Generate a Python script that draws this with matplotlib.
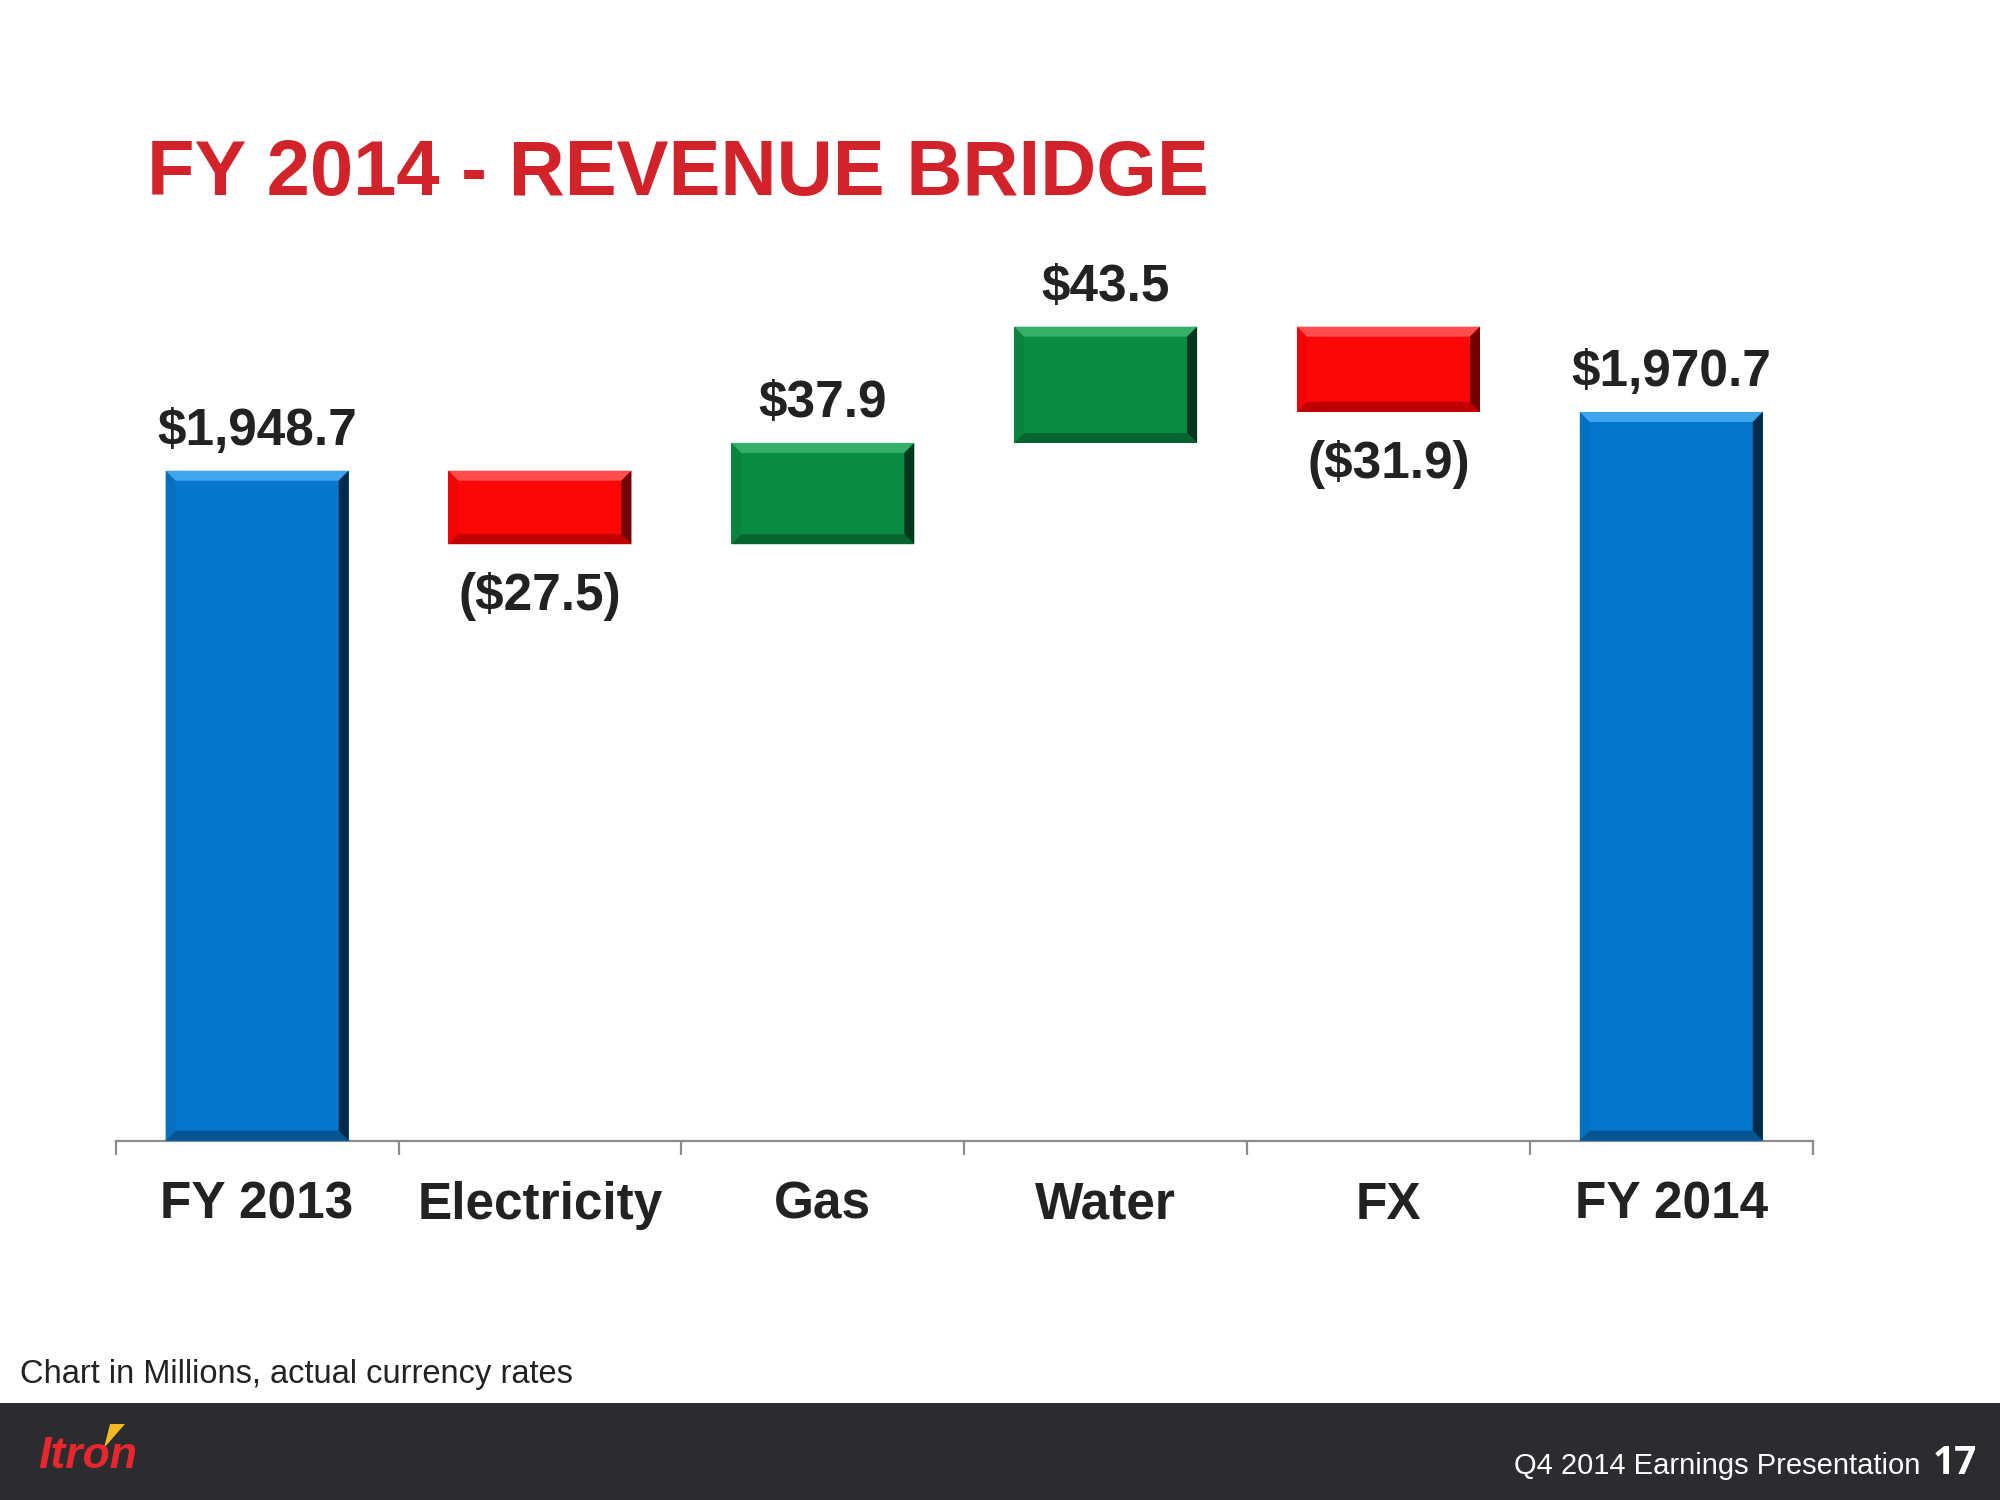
import numpy as np
import matplotlib
matplotlib.use('Agg')
import matplotlib.pyplot as plt
from matplotlib import font_manager
from matplotlib.patches import Polygon, Rectangle

categories = ['FY 2013', 'Electricity', 'Gas', 'Water', 'FX', 'FY 2014']
changes = [1948.7, -27.5, 37.9, 43.5, -31.9, 1970.7]
value_labels = ['$1,948.7', '($27.5)', '$37.9', '$43.5', '($31.9)', '$1,970.7']
is_total = [True, False, False, False, False, True]

# the slide cuts the value axis, the bars do not start at zero
y_floor = 1698
y_top = 2050

installed = {f.name for f in font_manager.fontManager.ttflist}
narrow = 'Liberation Sans Narrow' if 'Liberation Sans Narrow' in installed else 'Liberation Sans'

W, H = 2000, 1500
fig = plt.figure(figsize=(20, 15), dpi=100)
fig.patch.set_facecolor('white')

def px(x, y):
    return x / W, 1 - y / H

# axes placed on the slide in pixels
ax_l, ax_r, ax_b, ax_t = 115.7, 1812.7, 1140.7, 200
ax = fig.add_axes([ax_l / W, 1 - ax_b / H, (ax_r - ax_l) / W, (ax_b - ax_t) / H])
ax.set_xlim(-0.5, len(categories) - 0.5)
ax.set_ylim(y_floor, y_top)
ax.patch.set_alpha(0)

# waterfall geometry
bottoms, heights, kinds = [], [], []
running = 0
for v, tot in zip(changes, is_total):
    if tot:
        bottoms.append(y_floor)
        heights.append(v - y_floor)
        running = v
        kinds.append('total')
    else:
        bottoms.append(min(running, running + v))
        heights.append(abs(v))
        running += v
        kinds.append('up' if v > 0 else 'down')

# main, top bevel, bottom bevel, right bevel, left bevel
palette = {
    'total': ('#0677CC', '#3FA5EE', '#045592', '#022A4A', '#0670C0'),
    'up': ('#0A8C44', '#35B068', '#07642F', '#03381C', '#09843F'),
    'down': ('#FF0606', '#FF4C4C', '#BE0000', '#720000', '#F00404'),
}
x = np.arange(len(categories))
bw = 0.647

# invisible base of the floating bars, only its bottom edge shows
float_idx = [i for i, k in enumerate(kinds) if k != 'total']
ax.hlines([y_floor - 0.6] * len(float_idx), x[float_idx] - bw / 2, x[float_idx] + bw / 2,
          color='#3F6F9F', lw=2.2, zorder=1)

bars = ax.bar(x, heights, bottom=bottoms, width=bw,
              color=[palette[k][0] for k in kinds], zorder=3, linewidth=0)

fig.canvas.draw()
inv = ax.transData.inverted()
b = 10
for rect, k in zip(bars, kinds):
    _, light, dark, darkest, side = palette[k]
    (L, B), (R, T) = ax.transData.transform([(rect.get_x(), rect.get_y()),
                                             (rect.get_x() + rect.get_width(),
                                              rect.get_y() + rect.get_height())])
    bev = b if (T - B) > 2 * b + 4 else (T - B) / 4
    faces = [
        ([(L, B), (L, T), (L + bev, T - bev), (L + bev, B + bev)], side),
        ([(L, T), (R, T), (R - bev, T - bev), (L + bev, T - bev)], light),
        ([(L, B), (R, B), (R - bev, B + bev), (L + bev, B + bev)], dark),
        ([(R, B), (R, T), (R - bev, T - bev), (R - bev, B + bev)], darkest),
    ]
    for pts, c in faces:
        ax.add_patch(Polygon(inv.transform(pts), closed=True, facecolor=c,
                             edgecolor='none', zorder=4))

# value labels
for i, (lab, k) in enumerate(zip(value_labels, kinds)):
    if k == 'down':
        ax.annotate(lab, xy=(x[i], bottoms[i]), xytext=(0, -66 * 0.72),
                    textcoords='offset points', ha='center', va='baseline',
                    fontsize=37, fontweight='bold', color='#222222',
                    family=[narrow, 'DejaVu Sans'])
    else:
        ax.annotate(lab, xy=(x[i], bottoms[i] + heights[i]), xytext=(0, 26 * 0.72),
                    textcoords='offset points', ha='center', va='baseline',
                    fontsize=37, fontweight='bold', color='#222222',
                    family=[narrow, 'DejaVu Sans'])

# category labels
for i, cat in enumerate(categories):
    ax.annotate(cat, xy=(x[i], 0), xycoords=('data', 'axes fraction'),
                xytext=(0, -78 * 0.72), textcoords='offset points',
                ha='center', va='baseline', fontsize=37, fontweight='bold',
                color='#222222', family=[narrow, 'DejaVu Sans'])

for s in ['top', 'right', 'left']:
    ax.spines[s].set_visible(False)
ax.spines['bottom'].set_color('#8C8C8C')
ax.spines['bottom'].set_linewidth(1.6)
ax.spines['bottom'].set_zorder(2)
ax.set_yticks([])
ax.set_xticks(x)
ax.set_xticklabels([])
ax.tick_params(axis='x', which='major', length=0)
ax.set_xticks(np.arange(-0.5, len(categories)), minor=True)
ax.tick_params(axis='x', which='minor', length=10, width=1.6, color='#8C8C8C')

# slide text
fig.text(*px(147, 195), 'FY 2014 - REVENUE BRIDGE', ha='left', va='baseline',
         fontsize=56, fontweight='bold', color='#D2232A', family=['Liberation Sans', 'DejaVu Sans'])
fig.text(*px(20, 1383), 'Chart in Millions, actual currency rates', ha='left', va='baseline',
         fontsize=23.5, color='#222222', family=['Liberation Sans', 'DejaVu Sans'])

# footer band
fig.add_artist(Rectangle((0, 0), 1, (H - 1403) / H, transform=fig.transFigure,
                         facecolor='#2B2C30', edgecolor='none', zorder=0))
fig.text(*px(1920, 1474), 'Q4 2014 Earnings Presentation', ha='right', va='baseline',
         fontsize=21, color='white', family=[narrow, 'DejaVu Sans'])
fig.text(*px(1977, 1474), '17', ha='right', va='baseline',
         fontsize=28, fontweight='bold', color='white', family=['Open Sans', 'DejaVu Sans'])
fig.text(*px(38, 1468), 'Itron', ha='left', va='baseline', fontsize=32,
         fontweight='bold', style='italic', color='#E8262B', family=['Liberation Sans', 'DejaVu Sans'])
fig.add_artist(Polygon([px(110, 1424), px(125, 1424), px(104, 1448)], closed=True,
                       transform=fig.transFigure, facecolor='#F5B823', edgecolor='none'))

fig.savefig('out.png', dpi=100)
